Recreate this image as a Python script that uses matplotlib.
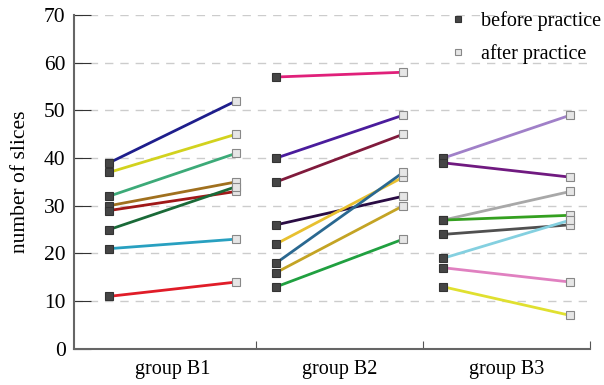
import matplotlib
matplotlib.use("Agg")
import matplotlib.pyplot as plt
import numpy as np

plt.rcParams['font.family'] = ['Liberation Serif', 'DejaVu Serif']

groups = ["group B1", "group B2", "group B3"]

# before / after values per group, one line per subject
before_b1 = [39, 37, 32, 30, 29, 25, 21, 11]
after_b1 = [52, 45, 41, 35, 33, 34, 23, 14]
colors_b1 = ["#1e1e8c", "#d2d21e", "#3caa78", "#a0701e", "#a01818", "#1a6a38", "#28a0c0", "#e01c28"]

before_b2 = [57, 40, 35, 26, 22, 18, 16, 13]
after_b2 = [58, 49, 45, 32, 36, 37, 30, 23]
colors_b2 = ["#e0207a", "#4a1c9c", "#801a3c", "#2a0c44", "#e8c030", "#2a6890", "#c4a424", "#20a040"]

before_b3 = [40, 39, 27, 27, 24, 19, 17, 13]
after_b3 = [49, 36, 33, 28, 26, 27, 14, 7]
colors_b3 = ["#a080c8", "#701a80", "#a8a8a8", "#34a020", "#505050", "#84d0e0", "#e080c0", "#e0e030"]

befores = [before_b1, before_b2, before_b3]
afters = [after_b1, after_b2, after_b3]
colors = [colors_b1, colors_b2, colors_b3]

fig = plt.figure(figsize=(6.04, 3.85), dpi=100)
ax = fig.add_axes([0.1225, 0.094, 0.855, 0.867])

x_before = 0.12
x_after = 0.88
for i in range(3):
    for b, a, c in zip(befores[i], afters[i], colors[i]):
        ax.plot([i + x_before, i + x_after], [b, a], color=c, lw=2, zorder=2)
    ax.plot([i + x_before] * len(befores[i]), befores[i], 's', ms=5.5,
            mfc="#454545", mec="#333333", mew=0.8, ls='none', zorder=3,
            label="before practice" if i == 0 else None)
    ax.plot([i + x_after] * len(afters[i]), afters[i], 's', ms=5.5,
            mfc="#e6e6e6", mec="#888888", mew=0.8, ls='none', zorder=3,
            label="after practice" if i == 0 else None)

ax.set_xlim(-0.09, 3)
ax.set_ylim(0, 70)
ax.set_yticks(np.arange(0, 71, 10))
ax.yaxis.grid(True, ls=(0, (6, 5)), color="#cccccc", lw=1)
ax.set_axisbelow(True)

ax.set_xticks([1, 2, 3])
ax.set_xticklabels([])
ax.set_xticks([0.5, 1.5, 2.5], minor=True)
ax.set_xticklabels(groups, minor=True, fontsize=14.5)
ax.tick_params(axis='x', which='major', direction='in', length=6, color="#555555")
ax.tick_params(axis='x', which='minor', length=0, pad=8)
ax.tick_params(axis='y', direction='in', length=12, color="#333333", labelsize=15.5, pad=6)

for s in ['top', 'right']:
    ax.spines[s].set_visible(False)
for s in ['left', 'bottom']:
    ax.spines[s].set_color("#666666")
    ax.spines[s].set_linewidth(1.5)

ax.set_ylabel("number of slices", fontsize=15.5, labelpad=10)

ax.legend(loc='upper right', bbox_to_anchor=(1.055, 1.065), frameon=False,
          fontsize=14.5, handletextpad=0.6, labelspacing=0.62, markerscale=0.9,
          handlelength=1.0)

fig.savefig("out.png", dpi=100)
